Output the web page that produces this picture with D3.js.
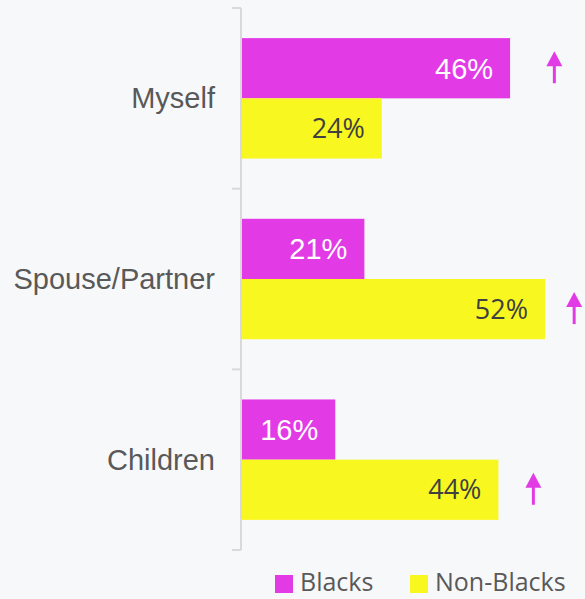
<!DOCTYPE html>
<html>
<head>
<meta charset="utf-8">
<script src="https://cdn.jsdelivr.net/npm/d3@7"></script>
<style>
  body { margin: 0; background: #f7f8fa; }
  svg { display: block; }
</style>
</head>
<body>
<svg width="585" height="599"></svg>
<script>
// chart values
var categories = ["Myself", "Spouse/Partner", "Children"];
var seriesNames = ["Blacks", "Non-Blacks"];
var blacks = [46, 21, 16];
var nonBlacks = [24, 52, 44];
// up arrows: which bar they sit next to and where (in % units)
var arrowCategory = ["Myself", "Spouse/Partner", "Children"];
var arrowSeries = ["Blacks", "Non-Blacks", "Non-Blacks"];
var arrowValue = [53.6, 57, 50];

var colors = { "Blacks": "#e23be6", "Non-Blacks": "#f8f820" };
var labelColors = { "Blacks": "#ffffff", "Non-Blacks": "#404040" };

var svg = d3.select("svg");

var y = d3.scaleBand()
    .domain(categories)
    .range([8, 550])
    .paddingInner(1 / 3)
    .paddingOuter(1 / 6);

var y1 = d3.scaleBand()
    .domain(seriesNames)
    .range([0, y.bandwidth()]);

var x = d3.scaleLinear()
    .domain([0, 58])
    .range([242, 580]);

var rows = categories.map(function (c, i) {
    return [
        { cat: c, s: "Blacks", v: blacks[i] },
        { cat: c, s: "Non-Blacks", v: nonBlacks[i] }
    ];
});

// axis: boundaries between categories as ticks
var edge = d3.scaleLinear().domain([0, 3]).range([8, 550]);
var axis = svg.append("g");
axis.append("line")
    .attr("x1", 241).attr("x2", 241)
    .attr("y1", edge(0)).attr("y2", edge(3))
    .attr("stroke", "#d9d9d9").attr("stroke-width", 2);
axis.selectAll(".tick")
    .data(d3.range(4))
    .join("line")
    .attr("x1", 232).attr("x2", 241)
    .attr("y1", function (d) { return edge(d); })
    .attr("y2", function (d) { return edge(d); })
    .attr("stroke", "#d9d9d9").attr("stroke-width", 2);

svg.append("g").selectAll("text")
    .data(categories)
    .join("text")
    .attr("x", 215)
    .attr("y", function (d) { return y(d) + y.bandwidth() / 2; })
    .attr("dy", "0.35em")
    .attr("text-anchor", "end")
    .attr("fill", "#595959")
    .style("font-family", "'Liberation Sans', Arial, sans-serif")
    .style("font-size", "29px")
    .text(function (d) { return d; });

var groups = svg.append("g").selectAll("g")
    .data(rows)
    .join("g")
    .attr("transform", function (d) { return "translate(0," + y(d[0].cat) + ")"; });

groups.selectAll("rect")
    .data(function (d) { return d; })
    .join("rect")
    .attr("x", x(0))
    .attr("y", function (d) { return y1(d.s); })
    .attr("width", function (d) { return x(d.v) - x(0); })
    .attr("height", y1.bandwidth())
    .attr("fill", function (d) { return colors[d.s]; });

groups.selectAll("text")
    .data(function (d) { return d; })
    .join("text")
    .attr("x", function (d) { return x(d.v) - 17; })
    .attr("y", function (d) { return y1(d.s) + y1.bandwidth() / 2; })
    .attr("dy", "0.36em")
    .attr("text-anchor", "end")
    .attr("fill", function (d) { return labelColors[d.s]; })
    .style("font-family", function (d) {
        return d.s === "Blacks" ? "'Liberation Sans', Arial, sans-serif" : "'Open Sans', sans-serif";
    })
    .style("font-size", function (d) { return d.s === "Blacks" ? "29px" : "27px"; })
    .text(function (d) { return d.v + "%"; });

// up arrows
var arrows = svg.append("g").selectAll("g")
    .data(arrowValue.map(function (v, i) {
        return { cat: arrowCategory[i], s: arrowSeries[i], v: v };
    }))
    .join("g")
    .attr("transform", function (d) {
        return "translate(" + x(d.v) + "," + (y(d.cat) + y1(d.s) + y1.bandwidth() / 2) + ")";
    });
arrows.append("line")
    .attr("x1", 0).attr("x2", 0)
    .attr("y1", -4).attr("y2", 15)
    .attr("stroke", "#e23be6").attr("stroke-width", 3);
arrows.append("path")
    .attr("d", "M0,-17L8,-2L-8,-2Z")
    .attr("fill", "#e23be6");

// legend
var legend = svg.append("g").selectAll("g")
    .data(seriesNames)
    .join("g")
    .attr("transform", function (d, i) { return "translate(" + (i === 0 ? 275 : 410) + ",575)"; });
legend.append("rect")
    .attr("width", 18).attr("height", 18)
    .attr("fill", function (d) { return colors[d]; });
legend.append("text")
    .attr("x", 25)
    .attr("y", 16)
    .attr("fill", "#595959")
    .style("font-family", "'Open Sans', sans-serif")
    .style("font-size", "25px")
    .text(function (d) { return d; });
</script>
</body>
</html>
